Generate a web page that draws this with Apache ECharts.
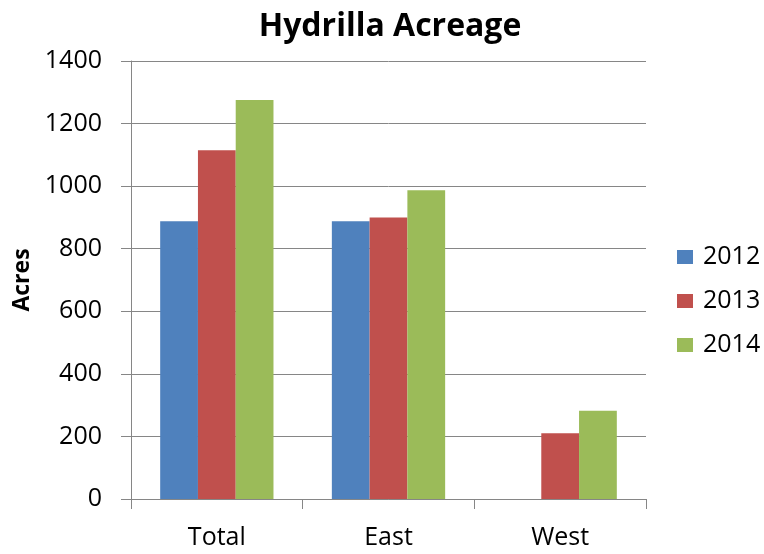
<!DOCTYPE html>
<html><head><meta charset="utf-8">
<script src="https://cdn.jsdelivr.net/npm/echarts@6/dist/echarts.min.js"></script>
<style>html,body{margin:0;padding:0;background:#fff}#c{width:764px;height:554px}</style>
</head><body><div id="c"></div>
<script>
const categories = ['Total', 'East', 'West'];
const years = ['2012', '2013', '2014'];
const v2012 = [888, 888, 0];
const v2013 = [1115, 900, 210];
const v2014 = [1275, 987, 282];
const colors = ['#4f81bd', '#c0504d', '#9bbb59'];
const yTicks = { min: 0, max: 1400, interval: 200 };

const font = "'Open Sans', 'Noto Sans', sans-serif";
const chart = echarts.init(document.getElementById('c'), null, { renderer: 'canvas' });
const seriesData = [v2012, v2013, v2014];
chart.setOption({
  animation: false,
  backgroundColor: '#fff',
  title: {
    text: 'Hydrilla Acreage', left: 385, top: 6, textAlign: 'center',
    textStyle: { fontFamily: font, fontWeight: 'bold', fontSize: 32, color: '#000' }
  },
  legend: {
    orient: 'vertical', left: 677, top: 244, itemGap: 18, padding: 0,
    itemWidth: 16, itemHeight: 14, icon: 'rect',
    textStyle: { fontFamily: font, fontSize: 25, lineHeight: 26, color: '#000', padding: [0, 0, 0, 5] },
    data: years
  },
  grid: { left: 131, right: 118, top: 61, bottom: 55, containLabel: false, outerBoundsMode: 'none' },
  xAxis: {
    type: 'category', data: categories,
    axisLine: { lineStyle: { color: '#868686', width: 1 } },
    axisTick: { show: true, length: 10, lineStyle: { color: '#868686' } },
    axisLabel: { fontFamily: font, fontSize: 25, color: '#000', margin: 26 }
  },
  yAxis: {
    type: 'value', min: yTicks.min, max: yTicks.max, interval: yTicks.interval,
    name: 'Acres', nameLocation: 'middle', nameGap: 95, nameRotate: 90,
    nameTextStyle: { fontFamily: font, fontWeight: 'bold', fontSize: 23, color: '#000' },
    axisLine: { show: true, lineStyle: { color: '#868686', width: 1 } },
    axisTick: { show: true, length: 10, lineStyle: { color: '#868686' } },
    splitLine: { lineStyle: { color: '#868686', width: 1 } },
    axisLabel: { fontFamily: font, fontSize: 25, color: '#000', margin: 29, formatter: v => String(v) }
  },
  series: years.map((y, i) => ({
    name: y, type: 'bar', data: seriesData[i],
    itemStyle: { color: colors[i] },
    barGap: '0%', barCategoryGap: '34%'
  }))
});
</script></body></html>
